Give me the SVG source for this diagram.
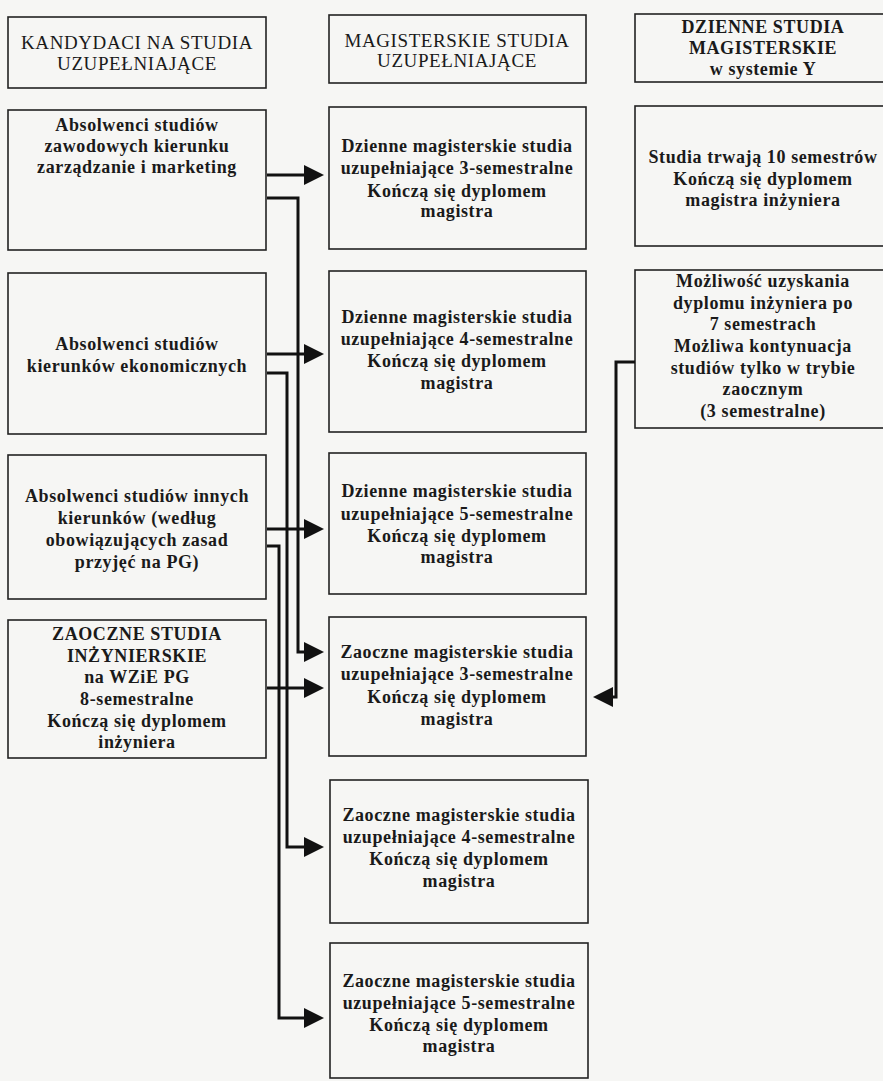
<svg xmlns="http://www.w3.org/2000/svg" width="883" height="1081" viewBox="0 0 883 1081">
<style>
.box{fill:none;stroke:#222;stroke-width:1.6}
.t{font-family:"Liberation Serif","Times New Roman",serif;font-size:18px;font-weight:bold;fill:#1a1a1a;text-anchor:middle;letter-spacing:0.6px}
.h{font-family:"Liberation Serif","Times New Roman",serif;font-size:19px;font-weight:normal;fill:#1a1a1a;text-anchor:middle;letter-spacing:0.6px}
.c{fill:none;stroke:#111;stroke-width:3}
</style>
<defs>
<marker id="ah" viewBox="0 0 20 20" markerWidth="20" markerHeight="20" refX="6" refY="10" orient="auto" markerUnits="userSpaceOnUse">
<path d="M0,0 L20,10 L0,20 z" fill="#111"/>
</marker>
</defs>
<rect width="883" height="1081" fill="#f6f6f4"/>

<g id="hdr-left">
<rect class="box" x="8" y="17" width="258" height="71"/>
<text class="h" x="137" y="49">KANDYDACI NA STUDIA</text>
<text class="h" x="137" y="70">UZUPEŁNIAJĄCE</text>
</g>
<g id="hdr-mid">
<rect class="box" x="329" y="15" width="257" height="68"/>
<text class="h" x="457" y="47">MAGISTERSKIE STUDIA</text>
<text class="h" x="457" y="67">UZUPEŁNIAJĄCE</text>
</g>
<g id="hdr-right">
<rect class="box" x="635" y="14" width="262" height="68"/>
<text class="t" x="763" y="33">DZIENNE STUDIA</text>
<text class="t" x="763" y="54">MAGISTERSKIE</text>
<text class="t" x="763" y="75">w systemie Y</text>
</g>

<g id="L1">
<rect class="box" x="8" y="110" width="258" height="140"/>
<text class="t" x="137" y="131">Absolwenci studiów</text>
<text class="t" x="137" y="152">zawodowych kierunku</text>
<text class="t" x="137" y="173">zarządzanie i marketing</text>
</g>
<g id="L2">
<rect class="box" x="8" y="273" width="258" height="161"/>
<text class="t" x="137" y="350">Absolwenci studiów</text>
<text class="t" x="137" y="372">kierunków ekonomicznych</text>
</g>
<g id="L3">
<rect class="box" x="8" y="455" width="258" height="144"/>
<text class="t" x="137" y="502">Absolwenci studiów innych</text>
<text class="t" x="137" y="524">kierunków (według</text>
<text class="t" x="137" y="546">obowiązujących zasad</text>
<text class="t" x="137" y="568">przyjęć na PG)</text>
</g>
<g id="L4">
<rect class="box" x="8" y="620" width="258" height="138"/>
<text class="t" x="137" y="640">ZAOCZNE STUDIA</text>
<text class="t" x="137" y="662">INŻYNIERSKIE</text>
<text class="t" x="137" y="683">na WZiE PG</text>
<text class="t" x="137" y="705">8-semestralne</text>
<text class="t" x="137" y="727">Kończą się dyplomem</text>
<text class="t" x="137" y="748">inżyniera</text>
</g>

<g id="M1">
<rect class="box" x="329" y="107" width="257" height="142"/>
<text class="t" x="457" y="152">Dzienne magisterskie studia</text>
<text class="t" x="457" y="174">uzupełniające 3-semestralne</text>
<text class="t" x="457" y="197">Kończą się dyplomem</text>
<text class="t" x="457" y="217">magistra</text>
</g>
<g id="M2">
<rect class="box" x="329" y="271" width="257" height="161"/>
<text class="t" x="457" y="323">Dzienne magisterskie studia</text>
<text class="t" x="457" y="345">uzupełniające 4-semestralne</text>
<text class="t" x="457" y="367">Kończą się dyplomem</text>
<text class="t" x="457" y="389">magistra</text>
</g>
<g id="M3">
<rect class="box" x="329" y="453" width="257" height="141"/>
<text class="t" x="457" y="497">Dzienne magisterskie studia</text>
<text class="t" x="457" y="520">uzupełniające 5-semestralne</text>
<text class="t" x="457" y="542">Kończą się dyplomem</text>
<text class="t" x="457" y="563">magistra</text>
</g>
<g id="M4">
<rect class="box" x="329" y="617" width="257" height="139"/>
<text class="t" x="457" y="658">Zaoczne magisterskie studia</text>
<text class="t" x="457" y="680">uzupełniające 3-semestralne</text>
<text class="t" x="457" y="703">Kończą się dyplomem</text>
<text class="t" x="457" y="725">magistra</text>
</g>
<g id="M5">
<rect class="box" x="330" y="780" width="258" height="143"/>
<text class="t" x="459" y="821">Zaoczne magisterskie studia</text>
<text class="t" x="459" y="843">uzupełniające 4-semestralne</text>
<text class="t" x="459" y="865">Kończą się dyplomem</text>
<text class="t" x="459" y="887">magistra</text>
</g>
<g id="M6">
<rect class="box" x="330" y="943" width="258" height="135"/>
<text class="t" x="459" y="987">Zaoczne magisterskie studia</text>
<text class="t" x="459" y="1009">uzupełniające 5-semestralne</text>
<text class="t" x="459" y="1031">Kończą się dyplomem</text>
<text class="t" x="459" y="1052">magistra</text>
</g>

<g id="R1">
<rect class="box" x="635" y="106" width="262" height="140"/>
<text class="t" x="763" y="163">Studia trwają 10 semestrów</text>
<text class="t" x="763" y="185">Kończą się dyplomem</text>
<text class="t" x="763" y="206">magistra inżyniera</text>
</g>
<g id="R2">
<rect class="box" x="635" y="270" width="262" height="158"/>
<text class="t" x="763" y="287">Możliwość uzyskania</text>
<text class="t" x="763" y="309">dyplomu inżyniera po</text>
<text class="t" x="763" y="330">7 semestrach</text>
<text class="t" x="763" y="352">Możliwa kontynuacja</text>
<text class="t" x="763" y="374">studiów tylko w trybie</text>
<text class="t" x="763" y="395">zaocznym</text>
<text class="t" x="763" y="417">(3 semestralne)</text>
</g>

<g id="connectors">
<path class="c" d="M267,175 H310" marker-end="url(#ah)"/>
<path class="c" d="M267,198 H298 V652 H310" marker-end="url(#ah)"/>
<path class="c" d="M267,354 H310" marker-end="url(#ah)"/>
<path class="c" d="M267,373 H287 V847 H310" marker-end="url(#ah)"/>
<path class="c" d="M267,529 H310" marker-end="url(#ah)"/>
<path class="c" d="M267,546 H279 V1018 H310" marker-end="url(#ah)"/>
<path class="c" d="M267,688 H310" marker-end="url(#ah)"/>
<path class="c" d="M635,362 H616 V697 H607" marker-end="url(#ah)"/>
</g>
</svg>
